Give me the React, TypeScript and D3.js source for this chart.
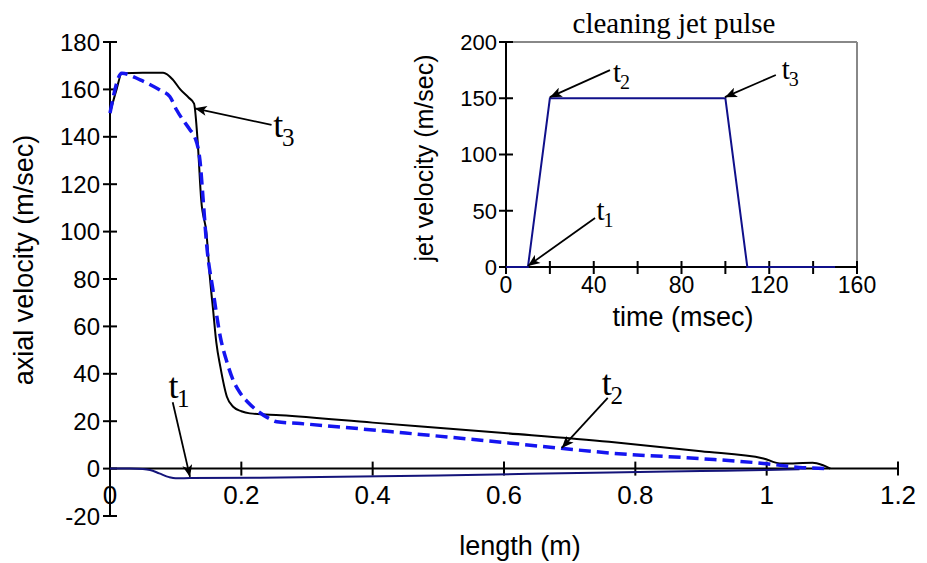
import React from "react";
import * as d3 from "d3";

// ---- main chart data: axial velocity (m/sec) vs length (m)
const t3Length = [0, 0.01, 0.018, 0.05, 0.081, 0.096, 0.107, 0.12, 0.128, 0.133, 0.139, 0.147, 0.152, 0.157, 0.162, 0.168, 0.178, 0.188, 0.2, 0.213, 0.26, 0.4, 0.6, 0.76, 0.9, 0.995, 1.02, 1.04, 1.07, 1.085, 1.097];
const t3Velocity = [150, 160, 166.8, 167, 167, 164, 160, 156.5, 154, 140, 113, 99, 81, 67, 53, 43, 30.3, 26, 24.2, 23.3, 22.5, 19.4, 15.0, 11.3, 7.3, 4.3, 2.2, 2.2, 2.5, 1.5, 0];

const t2Length = [0, 0.018, 0.046, 0.076, 0.091, 0.1015, 0.122, 0.129, 0.137, 0.142, 0.147, 0.157, 0.168, 0.178, 0.188, 0.198, 0.21, 0.223, 0.24, 0.254, 0.29, 0.45, 0.6, 0.685, 0.76, 0.9, 0.995, 1.05, 1.096];
const t2Velocity = [150, 166.8, 164, 159.7, 157, 151.3, 142.9, 140, 130, 113, 95, 75, 55.6, 45, 37, 32, 28, 24.7, 21.5, 19.8, 19.0, 15.0, 11.0, 8.6, 6.6, 4.2, 2.2, 0.5, 0];

const t1Length = [0, 0.03, 0.05, 0.061, 0.075, 0.09, 0.1, 0.122, 0.26, 0.5, 0.761, 0.9, 1.0, 1.05];
const t1Velocity = [0, 0, -0.2, -0.6, -2, -3.6, -4.1, -4.0, -3.8, -2.9, -1.6, -1.0, -0.6, -0.3];

const mainXTicks = [0, 0.2, 0.4, 0.6, 0.8, 1, 1.2];
const mainXTickLabels = ["0", "0.2", "0.4", "0.6", "0.8", "1", "1.2"];
const mainYTicks = [-20, 0, 20, 40, 60, 80, 100, 120, 140, 160, 180];

// ---- inset data: jet velocity (m/sec) vs time (msec)
const pulseTime = [0, 10, 20, 100, 110, 150];
const pulseVelocity = [0, 0, 150, 150, 0, 0];
const insetXTicks = [0, 20, 40, 60, 80, 100, 120, 140, 160];
const insetXLabels = [0, 40, 80, 120, 160];
const insetYTicks = [0, 50, 100, 150, 200];

// ---- annotations (data units): [tipX, tipY, tailX, tailY, textX, textY, subscript]
const mainNotes: [number, number, number, number, number, number, string][] = [
  [0.129, 152, 0.246, 145, 0.2487, 140, "3"],
  [0.1218, -3.5, 0.0955, 28, 0.089, 29.8, "1"],
  [0.688, 8.7, 0.758, 29.8, 0.749, 31, "2"],
];
const insetNotes: [number, number, number, number, number, number, string][] = [
  [20, 151, 47.4, 175, 48.8, 164.4, "2"],
  [99.8, 151, 123, 170.7, 125.7, 167.5, "3"],
  [10, 1, 40.6, 43.6, 41.3, 41.8, "1"],
];

const SANS = "'Liberation Sans', Arial, Helvetica, sans-serif";
const SERIF = "'Liberation Serif', 'Times New Roman', serif";

export default function App() {
  const x = d3.scaleLinear().domain([0, 1.2]).range([110, 898]);
  const y = d3.scaleLinear().domain([-20, 180]).range([516, 42]);
  const xi = d3.scaleLinear().domain([0, 160]).range([506, 857]);
  const yi = d3.scaleLinear().domain([0, 200]).range([267, 42]);

  const path = (xs: number[], ys: number[]) =>
    d3
      .line<number>()
      .x((_, i) => x(xs[i]))
      .y((_, i) => y(ys[i]))
      .curve(d3.curveMonotoneX)(xs) as string;

  const pulsePath = d3
    .line<number>()
    .x((_, i) => xi(pulseTime[i]))
    .y((_, i) => yi(pulseVelocity[i]))(pulseTime) as string;

  const note = (
    n: [number, number, number, number, number, number, string],
    sx: d3.ScaleLinear<number, number>,
    sy: d3.ScaleLinear<number, number>,
    big: number,
    small: number,
    key: string
  ) => {
    const [tx, ty, ax, ay, lx, ly, sub] = n;
    return (
      <g key={key}>
        <line
          x1={sx(ax)}
          y1={sy(ay)}
          x2={sx(tx)}
          y2={sy(ty)}
          stroke="#000"
          strokeWidth={1.8}
          markerEnd="url(#arrow)"
        />
        <text x={sx(lx)} y={sy(ly)} fontFamily={SERIF} fontSize={big} fill="#000">
          t
        </text>
        <text
          x={sx(lx) + big * 0.24}
          y={sy(ly) + small * 0.36}
          fontFamily={SERIF}
          fontSize={small}
          fill="#000"
        >
          {sub}
        </text>
      </g>
    );
  };

  return (
    <svg
      width={927}
      height={563}
      style={{ position: "absolute", left: 0, top: 0, background: "#fff" }}
    >
      <defs>
        <marker
          id="arrow"
          viewBox="0 0 12 10"
          refX={12}
          refY={5}
          markerWidth={13}
          markerHeight={10}
          markerUnits="userSpaceOnUse"
          orient="auto"
        >
          <path d="M0,0 L12,5 L0,10 L3,5 Z" fill="#000" />
        </marker>
      </defs>
      <rect x={0} y={0} width={927} height={563} fill="#fff" />

      {/* ===== main axes ===== */}
      <line x1={x(0)} x2={x(0)} y1={y(-20)} y2={y(180)} stroke="#000" strokeWidth={2} />
      <line x1={x(0)} x2={x(1.2)} y1={y(0)} y2={y(0)} stroke="#000" strokeWidth={2} />
      {mainYTicks.map((t) => (
        <g key={"my" + t}>
          <line x1={x(0) - 7} x2={x(0) + 7} y1={y(t)} y2={y(t)} stroke="#000" strokeWidth={2} />
          <text
            x={x(0) - 10}
            y={y(t)}
            dy="0.36em"
            textAnchor="end"
            fontFamily={SANS}
            fontSize={24}
            fill="#000"
          >
            {t}
          </text>
        </g>
      ))}
      {mainXTicks.map((t, i) => (
        <g key={"mx" + t}>
          <line x1={x(t)} x2={x(t)} y1={y(0) - 7} y2={y(0) + 7} stroke="#000" strokeWidth={2} />
          <text
            x={x(t)}
            y={504}
            textAnchor="middle"
            fontFamily={SANS}
            fontSize={26}
            fill="#000"
          >
            {mainXTickLabels[i]}
          </text>
        </g>
      ))}
      <text
        x={520}
        y={555}
        textAnchor="middle"
        fontFamily={SANS}
        fontSize={27}
        fill="#000"
      >
        length (m)
      </text>
      <text
        transform={`translate(33,260) rotate(-90)`}
        textAnchor="middle"
        fontFamily={SANS}
        fontSize={27}
        fill="#000"
      >
        axial velocity (m/sec)
      </text>

      {/* ===== main curves ===== */}
      <path d={path(t1Length, t1Velocity)} fill="none" stroke="#14147a" strokeWidth={2} />
      <path d={path(t3Length, t3Velocity)} fill="none" stroke="#000" strokeWidth={2} />
      <path
        d={path(t2Length, t2Velocity)}
        fill="none"
        stroke="#1515f0"
        strokeWidth={3.5}
        strokeDasharray="12,6"
      />

      {mainNotes.map((n, i) => note(n, x, y, 36, 25, "mn" + i))}

      {/* ===== inset ===== */}
      <line x1={xi(0)} x2={xi(160)} y1={yi(200)} y2={yi(200)} stroke="#888" strokeWidth={2} />
      <line x1={xi(160)} x2={xi(160)} y1={yi(200)} y2={yi(0)} stroke="#888" strokeWidth={2} />
      <line x1={xi(0)} x2={xi(0)} y1={yi(0)} y2={yi(200)} stroke="#000" strokeWidth={2} />
      <line x1={xi(0)} x2={xi(160)} y1={yi(0)} y2={yi(0)} stroke="#000" strokeWidth={2} />
      {insetYTicks.map((t) => (
        <g key={"iy" + t}>
          <line x1={xi(0) - 7} x2={xi(0) + 7} y1={yi(t)} y2={yi(t)} stroke="#000" strokeWidth={2} />
          <text
            x={xi(0) - 9}
            y={yi(t)}
            dy="0.36em"
            textAnchor="end"
            fontFamily={SANS}
            fontSize={22}
            fill="#000"
          >
            {t}
          </text>
        </g>
      ))}
      {insetXTicks.map((t) => (
        <line
          key={"ix" + t}
          x1={xi(t)}
          x2={xi(t)}
          y1={yi(0) - 6}
          y2={yi(0) + 7}
          stroke="#000"
          strokeWidth={2}
        />
      ))}
      {insetXLabels.map((t) => (
        <text
          key={"ixl" + t}
          x={xi(t)}
          y={293}
          textAnchor="middle"
          fontFamily={SANS}
          fontSize={23}
          fill="#000"
        >
          {t}
        </text>
      ))}
      <text x={683} y={326} textAnchor="middle" fontFamily={SANS} fontSize={27} fill="#000">
        time (msec)
      </text>
      <text
        transform={`translate(433,158) rotate(-90)`}
        textAnchor="middle"
        fontFamily={SANS}
        fontSize={25}
        fill="#000"
      >
        jet velocity (m/sec)
      </text>
      <text x={674} y={33} textAnchor="middle" fontFamily={SERIF} fontSize={29} fill="#000">
        cleaning jet pulse
      </text>
      <path d={pulsePath} fill="none" stroke="#10108a" strokeWidth={2} />
      {insetNotes.map((n, i) => note(n, xi, yi, 29, 20, "in" + i))}
    </svg>
  );
}
